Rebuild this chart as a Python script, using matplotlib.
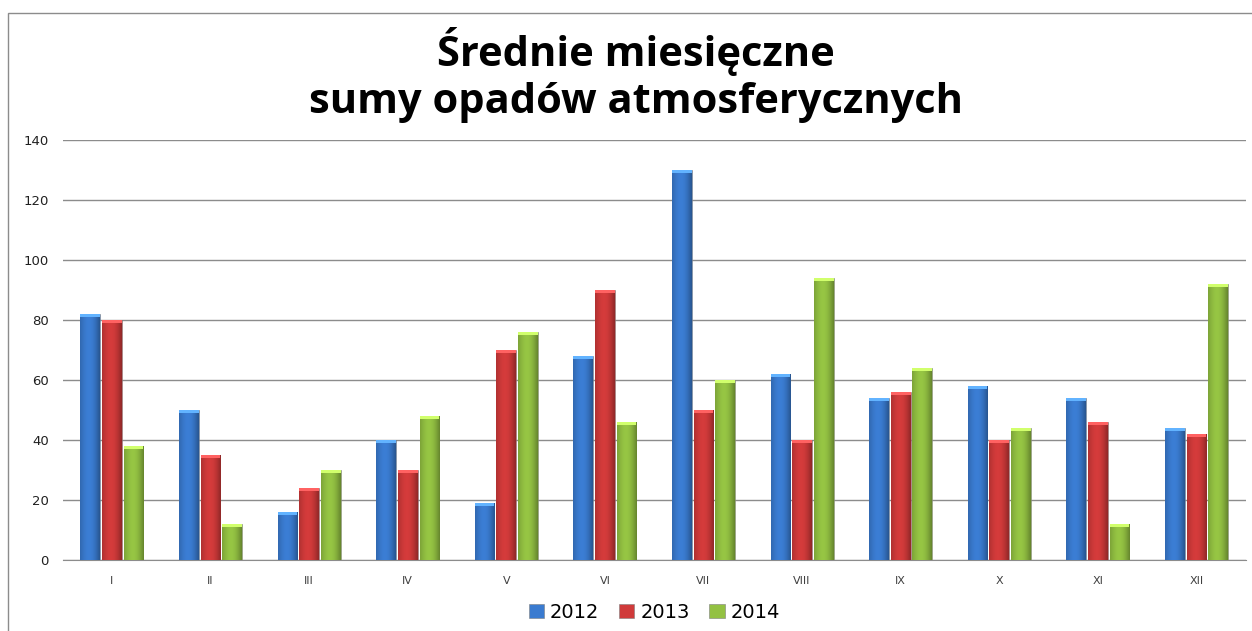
import numpy as np
import matplotlib
matplotlib.use("Agg")
import matplotlib.pyplot as plt
from matplotlib.patches import Rectangle
from matplotlib.colors import to_rgb

months = ["I", "II", "III", "IV", "V", "VI", "VII", "VIII", "IX", "X", "XI", "XII"]
years = ["2012", "2013", "2014"]
opady_2012 = [82, 50, 16, 40, 19, 68, 130, 62, 54, 58, 54, 44]
opady_2013 = [80, 35, 24, 30, 70, 90, 50, 40, 56, 40, 46, 42]
opady_2014 = [38, 12, 30, 48, 76, 46, 60, 94, 64, 44, 12, 92]
colors = ["#3a7bd0", "#d03a3a", "#93c142"]

fig = plt.figure(figsize=(12.52, 6.31), dpi=100)
ax = fig.add_axes([0.050, 0.112, 0.945, 0.666])

x = np.arange(len(months))
width = 0.2
step = 0.22


def shade_bar(ax, bar, col):
    # horizontal gradient to mimic the rounded Excel bars
    x0, y0 = bar.get_x(), bar.get_y()
    w, h = bar.get_width(), bar.get_height()
    base = np.array(to_rgb(col))
    t = np.linspace(0, 1, 40)
    prof = 0.85 + 0.3 * np.sin(np.pi * t * 0.9) - 0.25 * t
    img = np.clip(base[None, :] * prof[:, None], 0, 1)[None, :, :]
    im = ax.imshow(img, extent=[x0, x0 + w, y0, y0 + h], aspect="auto",
                   zorder=3, interpolation="bilinear")
    im.set_clip_path(bar)
    # light cap on top
    cap = np.clip(base * 1.25 + 0.1, 0, 1)
    ax.add_patch(Rectangle((x0, y0 + h - 0.9), w, 0.9, color=cap, zorder=4, lw=0))


series = [opady_2012, opady_2013, opady_2014]
for i, (vals, col, lab) in enumerate(zip(series, colors, years)):
    bars = ax.bar(x + (i - 1) * step, vals, width, color=col, label=lab,
                  edgecolor="#7f7f7f", linewidth=0.4, zorder=3)
    for b in bars:
        shade_bar(ax, b, col)

ax.set_xlim(-0.5, len(months) - 0.5)
ax.set_ylim(0, 140)
ax.set_yticks(range(0, 141, 20))
ax.yaxis.grid(True, color="#8c8c8c", linewidth=1.0)
ax.set_axisbelow(True)
for s in ["top", "right", "left"]:
    ax.spines[s].set_visible(False)
ax.spines["bottom"].set_color("#8c8c8c")
ax.set_xticks(x)
ax.set_xticklabels(months, fontsize=8, color="#404040")
ax.tick_params(axis="y", length=0, labelsize=9.5, labelcolor="#202020", pad=10)
ax.tick_params(axis="x", length=0, pad=11)

fig.text(0.508, 0.918, "Średnie miesięczne", ha="center", va="center",
         fontsize=30, fontweight="bold", family="Open Sans")
fig.text(0.508, 0.838, "sumy opadów atmosferycznych", ha="center", va="center",
         fontsize=30, fontweight="bold", family="Open Sans")

leg = ax.legend(loc="upper center", bbox_to_anchor=(0.5, -0.06), ncol=3,
                frameon=False, fontsize=14, handlelength=0.8, handleheight=0.7,
                handletextpad=0.3, columnspacing=1.0)

fig.patches.append(Rectangle((0.006, -0.01), 1.2, 0.99, transform=fig.transFigure,
                             fill=False, edgecolor="#8c8c8c", linewidth=1.0))

fig.savefig("out.png", dpi=100)
